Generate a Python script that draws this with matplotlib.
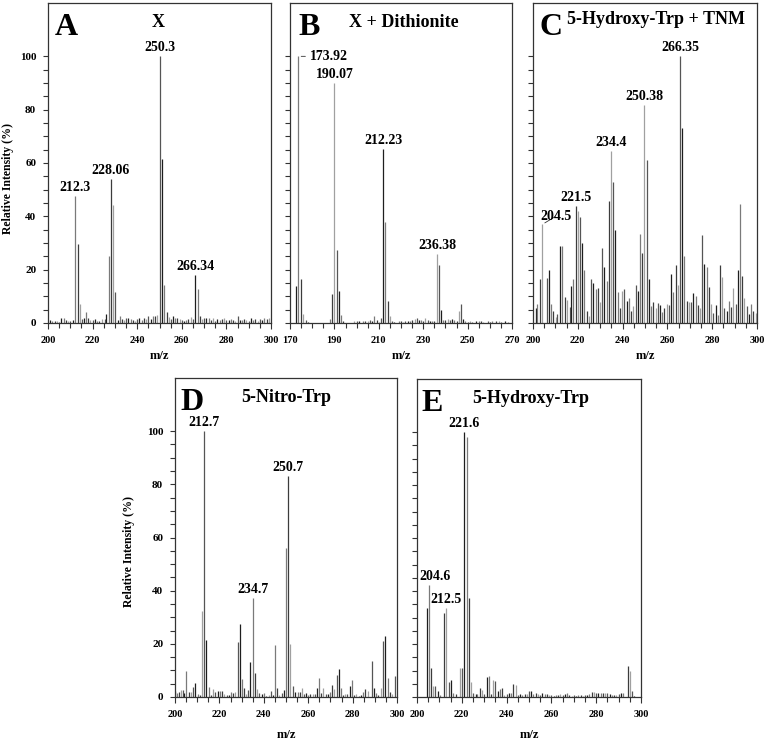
import matplotlib
matplotlib.use('Agg')
import matplotlib.pyplot as plt
from matplotlib.ticker import FixedLocator, NullFormatter

plt.rcParams['font.family'] = ['Liberation Serif', 'DejaVu Serif']
plt.rcParams['font.weight'] = 'bold'

# ---------------- data ----------------
# Panel A : X
a_mz = [201, 202, 203, 204, 205, 206, 207, 208, 209, 210, 211, 212.1, 213.3, 214.2, 215.4, 216,
        217.2, 218.1, 219, 220, 221, 222, 223, 224, 225.6, 226.2, 227.2, 228.2, 229.3, 230.2,
        231.2, 232.2, 233, 234, 235, 236, 237, 238, 239, 240, 241, 242, 243, 244, 245, 246, 247,
        248, 249, 250.2, 251.3, 252.2, 253.2, 254.2, 255, 256, 257, 258, 259, 260, 261, 262, 263,
        264, 265, 266.1, 267.1, 268.1, 269, 270, 271, 272, 273, 274, 275, 276, 277, 278, 279, 280,
        281, 282, 283, 284, 285, 286, 287, 288, 289, 290, 291, 292, 293, 294, 295, 296, 297, 298, 299]
a_int = [1.0, 0.8, 0.6, 0.7, 0.5, 2.0, 1.8, 1.2, 0.6, 0.8, 1.2, 47.5, 29.6, 7.0, 1.6, 2.0,
         4.2, 2.0, 1.2, 1.0, 1.4, 0.8, 0.6, 1.6, 1.6, 3.5, 25.0, 54.0, 44.4, 11.5,
         1.3, 2.5, 1.5, 1.2, 2.0, 1.8, 1.5, 1.0, 0.8, 1.5, 1.8, 1.2, 2.0, 1.6, 2.8, 1.5, 2.5,
         2.8, 3.0, 100.0, 61.5, 14.3, 4.2, 2.3, 1.5, 2.5, 2.0, 1.8, 1.5, 1.0, 0.8, 1.0, 1.5,
         2.2, 1.5, 18.0, 12.7, 2.5, 1.5, 2.0, 2.0, 1.8, 1.0, 2.0, 0.8, 1.5, 1.0, 1.5, 2.0, 1.2,
         1.0, 1.5, 1.0, 0.8, 2.5, 1.2, 1.0, 1.5, 1.0, 0.8, 2.0, 1.0, 1.5, 0.8, 1.5, 1.0, 2.0, 1.5, 2.0]
a_labels = [(212.1, "212.3"), (228.2, "228.06"), (250.2, "250.3"), (266.1, "266.34")]

# Panel B : X + Dithionite
b_mz = [172.9, 173.8, 174.9, 176.0, 177, 178, 188.0, 189.0, 190.0, 191.0, 191.9, 193.0, 194,
        199, 200, 201, 203, 204, 205, 206, 207, 208, 209, 210, 211, 212.0, 212.9, 214.0, 215,
        216, 217, 219, 220, 221, 222, 223, 224, 225, 226.3, 227, 228, 229, 230, 231, 232, 233,
        234, 235, 236.2, 237.0, 238.0, 239, 240, 241, 242, 243, 244, 245, 246.1, 247.0, 248,
        249, 250, 251, 252, 254, 255, 256, 257, 259, 260, 261, 263, 264, 265, 267, 268]
b_int = [14.0, 100.0, 16.6, 3.5, 1.0, 0.5, 1.6, 10.8, 90.0, 27.4, 12.0, 3.0, 0.8,
         0.8, 0.6, 0.8, 0.7, 0.8, 0.6, 1.0, 0.8, 2.5, 1.3, 0.5, 2.0, 65.4, 37.7, 8.3, 2.5,
         0.8, 0.5, 0.6, 0.7, 0.5, 0.8, 0.6, 0.8, 1.0, 1.6, 2.0, 1.0, 1.2, 0.8, 2.0, 1.0, 0.8,
         0.6, 0.8, 26.0, 21.8, 5.0, 1.0, 1.2, 1.4, 1.2, 1.6, 1.0, 0.8, 4.5, 7.0, 1.6,
         0.6, 0.5, 0.8, 0.5, 0.6, 0.8, 0.6, 0.5, 0.8, 0.5, 0.6, 0.7, 0.8, 0.5, 0.6, 0.5]
b_labels = [(190.0, "190.07"), (212.0, "212.23"), (236.2, "236.38")]
b_side_label = (173.8, "173.92")

# Panel C : 5-Hydroxy-Trp + TNM
c_mz = [201.2, 201.9, 203.1, 204.2, 206.1, 207.0, 208.2, 209.1, 210.1, 210.9, 212.1, 213.1,
        214.1, 215.0, 216.4, 217.1, 218.0, 219.0, 219.9, 221.0, 222.0, 222.9, 224.0, 225.0,
        225.9, 226.9, 228.0, 229.0, 229.9, 231.0, 231.8, 232.9, 233.8, 234.8, 235.9, 236.8,
        237.8, 238.8, 239.9, 240.8, 241.8, 242.7, 243.8, 244.8, 245.8, 246.7, 247.8, 248.8,
        249.7, 250.7, 251.8, 252.7, 253.7, 254.8, 255.7, 256.7, 257.7, 258.6, 259.7, 260.7,
        261.6, 262.6, 263.7, 264.6, 265.6, 266.5, 267.6, 268.6, 269.5, 270.5, 271.6, 272.6,
        273.5, 274.6, 275.6, 276.5, 277.5, 278.6, 279.5, 280.5, 281.5, 282.4, 283.5, 284.5,
        285.4, 286.5, 287.5, 288.4, 289.4, 290.5, 291.4, 292.4, 293.5, 294.3, 295.4, 296.4,
        297.3, 298.4, 299.4]
c_int = [5.5, 7.0, 16.5, 37.0, 17.0, 20.0, 7.0, 4.4, 2.4, 3.4, 29.0, 28.7,
         9.6, 8.6, 5.9, 13.7, 16.5, 44.0, 41.9, 39.6, 30.0, 19.7, 4.6, 2.6,
         16.5, 15.0, 12.8, 13.0, 7.8, 28.0, 21.0, 15.8, 45.6, 64.4, 53.0, 35.0,
         11.8, 5.5, 12.0, 12.7, 8.3, 9.3, 4.5, 6.4, 14.3, 12.0, 33.3, 26.4,
         81.7, 61.0, 16.5, 6.5, 7.8, 5.8, 7.4, 6.8, 4.3, 5.8, 7.0, 6.8,
         18.3, 11.8, 21.8, 14.3, 100.0, 73.0, 25.0, 8.3, 8.0, 7.8, 11.4, 10.0,
         6.8, 5.5, 33.0, 22.0, 21.0, 13.6, 7.0, 3.6, 6.8, 3.0, 21.8, 17.4,
         5.5, 4.5, 8.3, 6.1, 13.3, 7.0, 20.0, 44.6, 17.7, 9.3, 6.4, 3.4,
         7.0, 4.6, 3.6]
c_labels = [(219.0, "221.5"), (234.8, "234.4"), (249.7, "250.38"), (265.6, "266.35")]
c_side_label = (204.2, "204.5")

# Panel D : 5-Nitro-Trp
d_mz = [200.0, 200.8, 201.7, 202.6, 203.6, 204.2, 205.1, 206.2, 207.2, 208.1, 209.2, 210.2,
        211.1, 212.2, 213.1, 214.1, 215.2, 216.2, 217.3, 218.2, 219.2, 220.1, 221.2, 222.2,
        223.2, 224.2, 225.2, 226.1, 227.2, 228.2, 229.1, 230.2, 231.2, 232.1, 233.0, 233.9,
        235.0, 236.0, 237.1, 238.0, 239.2, 240.1, 241.1, 242.2, 243.2, 244.1, 245.0, 246.1,
        247.0, 248.0, 249.1, 250.0, 250.9, 252.0, 253.1, 254.2, 255.2, 256.1, 257.2, 258.2,
        259.1, 260.1, 261.0, 262.0, 263.0, 264.0, 264.9, 265.8, 266.8, 267.8, 268.9, 269.9,
        270.7, 271.8, 273.0, 273.9, 274.8, 275.8, 276.7, 277.6, 278.8, 279.9, 280.8, 281.7,
        282.8, 283.8, 284.9, 285.8, 286.8, 288.7, 289.6, 290.5, 291.6, 292.6, 293.7, 294.7,
        295.8, 296.8, 297.7, 298.9]
d_int = [2.4, 1.6, 2.0, 2.7, 2.7, 1.5, 9.8, 2.0, 2.0, 3.7, 5.4, 1.0,
         0.6, 32.3, 100.0, 21.6, 3.7, 0.8, 2.9, 2.0, 2.4, 2.4, 2.4, 1.0,
         0.8, 0.8, 2.0, 1.4, 2.0, 20.6, 27.5, 6.8, 3.3, 1.1, 2.7, 13.1,
         37.2, 9.2, 3.0, 1.4, 1.1, 1.4, 0.5, 0.8, 2.4, 0.8, 19.4, 3.3,
         0.8, 1.6, 2.7, 56.0, 83.0, 20.0, 4.2, 2.0, 2.0, 2.0, 3.3, 1.1,
         1.6, 0.8, 1.1, 1.1, 1.0, 3.3, 7.0, 1.4, 3.3, 1.0, 1.1, 1.9,
         4.5, 2.9, 8.3, 10.6, 3.3, 0.8, 1.0, 1.1, 4.2, 6.4, 0.8, 1.0,
         0.5, 0.8, 1.8, 2.9, 2.4, 13.6, 3.3, 1.4, 0.8, 3.3, 21.2, 23.1,
         7.0, 1.9, 1.0, 8.0]
d_labels = [(213.1, "212.7"), (235.0, "234.7"), (250.9, "250.7")]

# Panel E : 5-Hydroxy-Trp
e_mz = [204.3, 205.3, 206.2, 207.3, 208.2, 209.2, 210.2, 212.2, 213.1, 214.1, 215.0, 216.2,
        217.2, 219.4, 220.2, 221.1, 222.2, 223.2, 224.1, 225.2, 226.2, 227.0, 228.1, 229.2,
        230.0, 231.1, 232.1, 233.0, 234.1, 235.0, 236.0, 237.1, 238.0, 239, 240, 241, 242,
        243, 244, 245, 246, 247, 248, 249, 250, 251, 252, 253, 254, 255, 256, 257, 258, 259,
        260, 261, 262, 263, 264, 265, 266, 267, 268, 269, 270, 271, 272, 273, 274, 275, 276,
        277, 278, 279, 280, 281, 282, 283, 284, 285, 286, 287, 288, 289, 290, 291, 292,
        294.0, 294.9, 295.8, 297]
e_int = [33.6, 42.2, 11.0, 4.3, 4.3, 2.1, 0.8, 31.7, 33.6, 5.5, 6.3, 1.5,
         1.0, 11.0, 11.0, 100.0, 98.2, 37.2, 5.5, 1.5, 1.0, 1.0, 3.4, 2.8,
         1.0, 7.4, 7.8, 1.0, 6.5, 6.2, 2.1, 3.0, 3.4, 0.8, 1.0, 1.5, 1.5,
         5.0, 4.7, 0.8, 1.0, 0.8, 1.2, 1.0, 2.4, 2.4, 1.0, 1.5, 1.2, 0.8, 1.5, 1.0, 1.2, 0.8,
         0.6, 0.5, 0.6, 0.8, 1.0, 0.8, 1.2, 1.5, 0.6, 0.5, 0.6, 0.5, 0.6, 0.8, 0.5, 0.6, 0.8,
         1.2, 1.8, 1.8, 1.5, 1.5, 1.5, 1.5, 1.5, 1.5, 1.2, 0.8, 0.6, 0.8, 1.2, 1.5, 1.5,
         11.6, 10.0, 2.4, 0.5]
e_labels = [(221.1, "221.6"), (213.1, "212.5")]
e_side_label = (205.3, "204.6")

# ---------------- drawing ----------------
W, H = 765, 740
fig = plt.figure(figsize=(W / 100, H / 100), dpi=100)

def add_ax(l, t, r, b):
    return fig.add_axes([l / W, (H - b) / H, (r - l) / W, (b - t) / H])

shades = ['#1e1e1e', '#7a7a7a', '#3c3c3c', '#a0a0a0', '#555555']

def spectrum(ax, mz, inten, xlim, xmajor, ylab):
    cols = [shades[i % len(shades)] for i in range(len(mz))]
    ax.vlines(mz, 0, inten, colors=cols, linewidth=0.9)
    ax.set_xlim(*xlim)
    ax.set_ylim(0, 120)
    ax.xaxis.set_major_locator(FixedLocator(xmajor))
    ax.xaxis.set_minor_locator(FixedLocator(
        [v for v in range(int(xlim[0]), int(xlim[1]) + 1, 5) if v not in xmajor]))
    ax.yaxis.set_major_locator(FixedLocator([0, 20, 40, 60, 80, 100]))
    ax.yaxis.set_minor_locator(FixedLocator([v for v in range(5, 100, 5) if v % 20]))
    ax.tick_params(axis='both', which='both', direction='out', color='#333333', width=0.8)
    ax.tick_params(axis='x', which='major', length=4.5, pad=5, labelsize=7.5)
    ax.tick_params(axis='x', which='minor', length=3.5)
    ax.tick_params(axis='y', which='both', length=3.5, pad=5, labelsize=8)
    for s in ax.spines.values():
        s.set_linewidth(0.9)
        s.set_color('#333333')
    if not ylab:
        ax.yaxis.set_major_formatter(NullFormatter())
    ax.set_xlabel('m/z', fontsize=9, fontweight='bold')

def peak_labels(ax, mz, inten, labels):
    for x, txt in labels:
        y = inten[mz.index(x)]
        ax.annotate(txt, (x, y), xytext=(0, 1.5), textcoords='offset points',
                    ha='center', va='bottom', fontsize=10, fontweight='bold')

def side_label(ax, mz, inten, lab, off, ha):
    x, txt = lab
    y = inten[mz.index(x)]
    ax.annotate(txt, (x, y), xytext=off, textcoords='offset points', ha=ha, va='center',
                fontsize=10, fontweight='bold',
                arrowprops=dict(arrowstyle='-', lw=0.6, color='#333333', shrinkA=1, shrinkB=2))

def decorate(ax, letter, lx, title, tx, ty):
    ax.text(lx, 0.9, letter, transform=ax.transAxes, fontsize=23, fontweight='bold',
            ha='left', va='baseline')
    ax.text(tx, ty, title, transform=ax.transAxes, fontsize=13, fontweight='bold',
            ha='center', va='baseline')

# A
axA = add_ax(48, 3, 271, 323)
spectrum(axA, a_mz, a_int, (200, 300), [200, 220, 240, 260, 280, 300], True)
peak_labels(axA, a_mz, a_int, a_labels)
decorate(axA, 'A', 0.03, 'X', 0.493, 0.926)
axA.set_ylabel('Relative Intensity (%)', fontsize=8.5, fontweight='bold')
axA.yaxis.set_label_coords(-0.152, 0.453)
axA.xaxis.set_label_coords(0.5, -0.085)

# B
axB = add_ax(290, 3, 512, 323)
spectrum(axB, b_mz, b_int, (170, 270), [170, 190, 210, 230, 250, 270], False)
peak_labels(axB, b_mz, b_int, b_labels)
side_label(axB, b_mz, b_int, b_side_label, (8, 0), 'left')
decorate(axB, 'B', 0.036, 'X + Dithionite', 0.511, 0.926)
axB.xaxis.set_label_coords(0.5, -0.085)

# C
axC = add_ax(533, 3, 757, 323)
spectrum(axC, c_mz, c_int, (200, 300), [200, 220, 240, 260, 280, 300], False)
peak_labels(axC, c_mz, c_int, c_labels)
side_label(axC, c_mz, c_int, c_side_label, (10, 6), 'center')
decorate(axC, 'C', 0.031, '5-Hydroxy-Trp + TNM', 0.55, 0.934)
axC.xaxis.set_label_coords(0.5, -0.085)

# D
axD = add_ax(175, 378, 397, 697)
spectrum(axD, d_mz, d_int, (200, 300), [200, 220, 240, 260, 280, 300], True)
peak_labels(axD, d_mz, d_int, d_labels)
decorate(axD, 'D', 0.023, '5-Nitro-Trp', 0.502, 0.926)
axD.set_ylabel('Relative Intensity (%)', fontsize=8.5, fontweight='bold')
axD.yaxis.set_label_coords(-0.18, 0.455)
axD.xaxis.set_label_coords(0.5, -0.1)

# E
axE = add_ax(417, 379, 641, 697)
spectrum(axE, e_mz, e_int, (200, 300), [200, 220, 240, 260, 280, 300], False)
peak_labels(axE, e_mz, e_int, e_labels)
y0 = e_int[e_mz.index(e_side_label[0])]
axE.annotate(e_side_label[1], (e_side_label[0], y0), xytext=(4.5, 1.5),
             textcoords='offset points', ha='center', va='bottom', fontsize=10, fontweight='bold')
decorate(axE, 'E', 0.022, '5-Hydroxy-Trp', 0.508, 0.926)
axE.xaxis.set_label_coords(0.5, -0.1)

fig.savefig('out.png', dpi=100)
